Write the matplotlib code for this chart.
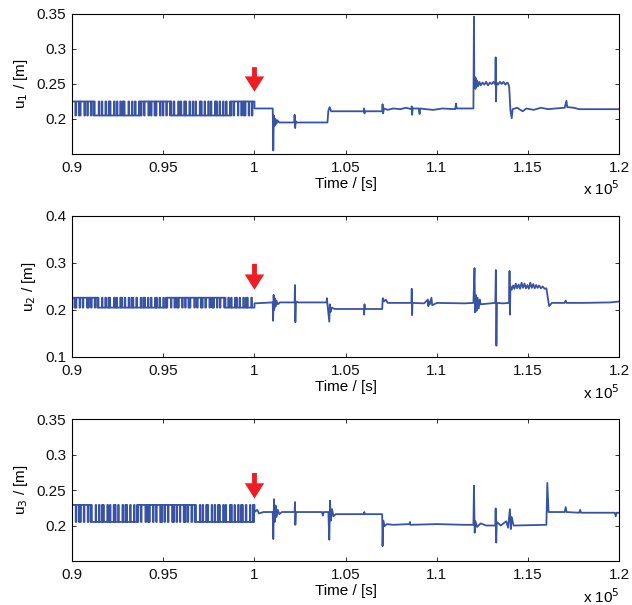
import numpy as np
import matplotlib
matplotlib.use("Agg")
import matplotlib.pyplot as plt

plt.rcParams['font.family'] = ['Liberation Sans', 'DejaVu Sans']

# time axis ticks (seconds), labels shown in units of 1e5 s
xtick_vals = [90000, 95000, 100000, 105000, 110000, 115000, 120000]
xtick_labels = ['0.9', '0.95', '1', '1.05', '1.1', '1.15', '1.2']

# --- switching phase (before the arrow): durations of alternating high/low levels [s]
u1_levels = (0.225, 0.205)
u1_dur = [180, 40, 150, 30, 40, 30, 200, 40, 120, 40, 160, 30, 110, 40, 30, 220, 40, 130, 30,
          170, 40, 140, 30, 40, 30, 190, 40, 120, 30, 150, 40, 100, 30, 40, 30, 210, 40, 160, 30,
          130, 40, 180, 30, 40, 40, 30, 140, 30, 200, 40, 110, 30, 160, 40, 40, 30, 190, 40, 120,
          30, 150, 40, 170, 30, 40, 130, 40, 210, 30, 100, 40, 160, 30, 40, 30, 180, 40, 140,
          30, 120, 40, 200, 30, 40, 40, 150, 30, 170, 40, 110, 30, 190, 40, 40, 30, 140, 40, 160,
          30, 130, 40, 180, 30, 40, 120, 40, 200, 30, 150, 40, 100, 30, 40, 30, 170, 40, 140,
          30, 160, 40, 30, 40, 190, 30, 120, 40, 150, 30, 180, 40, 110, 30, 200, 40, 130, 30, 160]

u2_levels = (0.226, 0.205)
u2_dur = [130, 40, 30, 40, 170, 30, 140, 40, 200, 30, 40, 30, 120, 40, 160, 30, 110, 40, 30,
          190, 30, 150, 40, 130, 30, 40, 30, 210, 40, 100, 30, 170, 40, 30, 40, 140, 30, 180, 40,
          120, 30, 40, 30, 160, 40, 200, 30, 110, 40, 30, 40, 150, 30, 130, 40, 190, 30, 40, 30,
          140, 40, 170, 30, 120, 40, 30, 200, 30, 160, 40, 100, 30, 40, 30, 180, 40, 130, 30,
          150, 40, 30, 40, 210, 30, 120, 40, 170, 30, 40, 30, 140, 40, 190, 30, 110, 40, 30, 40,
          160, 30, 130, 40, 200, 30, 40, 150, 40, 120, 30, 180, 40, 30, 40, 140, 30, 170, 40,
          110, 30, 40, 30, 190, 40, 150, 30, 120, 40, 160, 30, 200, 40, 130, 30, 170, 40, 140, 30]

u3_levels = (0.229, 0.205)
u3_dur = [200, 40, 140, 30, 40, 30, 160, 40, 180, 30, 120, 40, 30, 210, 30, 150, 40, 130, 30,
          40, 30, 190, 40, 110, 30, 170, 40, 30, 40, 140, 30, 200, 40, 120, 30, 40, 30, 160, 40,
          180, 30, 130, 40, 30, 150, 30, 210, 40, 100, 30, 40, 30, 170, 40, 140, 30, 190, 40,
          30, 40, 120, 30, 160, 40, 200, 30, 40, 30, 130, 40, 150, 30, 180, 40, 30, 40, 110, 30,
          170, 40, 140, 30, 40, 210, 40, 120, 30, 160, 40, 30, 40, 190, 30, 130, 40, 150, 30,
          40, 30, 180, 40, 100, 30, 200, 40, 30, 40, 140, 30, 170, 40, 120, 30, 40, 30, 160, 40,
          190, 30, 130, 40, 30, 40, 150, 30, 200, 40, 110, 30, 170, 40, 140, 30]

# --- after the arrow: piecewise signal (time [s], value [m])
u1_t = [100000, 101000, 101030, 101060, 101100, 101150, 101200, 101260, 101350,
        102180, 102200, 102230, 102260, 102300, 104000, 104050, 104120, 104200,
        106000, 106010, 106030, 106050, 107000, 107020, 107050, 107100, 107300,
        107600, 108000, 108300, 108600, 108620, 108640, 108670, 109000, 109050,
        109080, 109400, 109800, 110300, 111000, 111050, 111080, 112000, 112030,
        112050, 112080, 112110, 112140, 112170, 112200, 112260, 112330, 112400,
        112500, 112600, 112700, 112800, 112900, 113000, 113100, 113200, 113220,
        113240, 113260, 113350, 113450, 113550, 113650, 113750, 113850, 113900,
        113960, 114030, 114100, 114150, 114400, 114700, 114900, 115300, 115700,
        116100, 116500, 117000, 117100, 117140, 117500, 117800, 120000]
u1_v = [0.215, 0.215, 0.155, 0.205, 0.190, 0.200, 0.193, 0.198, 0.195,
        0.195, 0.206, 0.187, 0.197, 0.195, 0.195, 0.212, 0.217, 0.211,
        0.211, 0.215, 0.208, 0.211, 0.211, 0.221, 0.208, 0.215, 0.213,
        0.215, 0.214, 0.216, 0.214, 0.218, 0.206, 0.215, 0.215, 0.207,
        0.215, 0.214, 0.213, 0.215, 0.214, 0.222, 0.215, 0.215, 0.346,
        0.245, 0.260, 0.243, 0.258, 0.246, 0.255, 0.247, 0.253, 0.248,
        0.252, 0.249, 0.253, 0.248, 0.252, 0.250, 0.253, 0.249, 0.288,
        0.225, 0.252, 0.249, 0.253, 0.250, 0.253, 0.249, 0.252, 0.251,
        0.246, 0.212, 0.201, 0.214, 0.216, 0.211, 0.215, 0.213, 0.216,
        0.214, 0.215, 0.216, 0.226, 0.217, 0.216, 0.214, 0.214]

u2_t = [100000, 100500, 101000, 101020, 101050, 101080, 101110, 101150, 101200,
        101280, 101400, 102200, 102220, 102240, 102270, 102400, 103950, 103970,
        104000, 104100, 104130, 104170, 104230, 104400, 106000, 106010, 106030,
        106050, 107000, 107030, 107100, 107200, 107300, 108600, 108620, 108640,
        108660, 109300, 109500, 109530, 109560, 109600, 109700, 109740, 110000,
        111500, 112000, 112060, 112090, 112130, 112170, 112230, 112290, 112350,
        112400, 113200, 113230, 113260, 113290, 113600, 113960, 113980, 114000,
        114030, 114100, 114180, 114250, 114320, 114400, 114480, 114560, 114640,
        114720, 114800, 114880, 114960, 115040, 115120, 115200, 115280, 115360,
        115440, 115520, 115600, 115700, 115800, 115900, 116000, 116150, 116300,
        117000, 117060, 117100, 118000, 119500, 120000]
u2_v = [0.214, 0.215, 0.216, 0.177, 0.232, 0.200, 0.225, 0.207, 0.220,
        0.212, 0.216, 0.216, 0.253, 0.174, 0.218, 0.216, 0.216, 0.225,
        0.212, 0.175, 0.212, 0.196, 0.205, 0.202, 0.202, 0.190, 0.212,
        0.202, 0.202, 0.225, 0.218, 0.222, 0.215, 0.215, 0.245, 0.189,
        0.215, 0.214, 0.222, 0.208, 0.218, 0.212, 0.226, 0.210, 0.215,
        0.214, 0.215, 0.289, 0.195, 0.232, 0.198, 0.226, 0.203, 0.222,
        0.212, 0.215, 0.285, 0.124, 0.215, 0.214, 0.215, 0.283, 0.190,
        0.250, 0.243, 0.252, 0.245, 0.256, 0.246, 0.254, 0.245, 0.258,
        0.247, 0.256, 0.246, 0.253, 0.245, 0.258, 0.247, 0.255, 0.246,
        0.253, 0.247, 0.252, 0.246, 0.250, 0.245, 0.246, 0.208, 0.215,
        0.215, 0.220, 0.215, 0.215, 0.216, 0.218]

u3_t = [100000, 100150, 100250, 100500, 101000, 101030, 101070, 101110, 101160,
        101210, 101280, 101360, 101500, 102200, 102220, 102240, 102270, 103700,
        103750, 103800, 104050, 104100, 104140, 104190, 104250, 104330, 104450,
        106000, 106020, 106040, 107000, 107020, 107060, 107120, 107250, 107600,
        108500, 108520, 108540, 110000, 111500, 112000, 112030, 112070, 112110,
        112200, 112400, 112700, 113200, 113220, 113250, 113280, 113500, 113800,
        113900, 114000, 114050, 114100, 114200, 116000, 116050, 116120, 116500,
        117000, 117060, 117100, 117800, 117850, 117900, 119750, 119800, 119850,
        120000]
u3_v = [0.219, 0.222, 0.217, 0.219, 0.219, 0.181, 0.237, 0.205, 0.228,
        0.212, 0.222, 0.216, 0.219, 0.219, 0.233, 0.201, 0.219, 0.219,
        0.214, 0.219, 0.219, 0.180, 0.235, 0.207, 0.223, 0.213, 0.216,
        0.216, 0.219, 0.216, 0.216, 0.171, 0.207, 0.199, 0.202, 0.201,
        0.202, 0.205, 0.201, 0.202, 0.201, 0.201, 0.256, 0.190, 0.206,
        0.198, 0.203, 0.200, 0.200, 0.224, 0.176, 0.205, 0.200, 0.206,
        0.197, 0.223, 0.195, 0.212, 0.200, 0.201, 0.260, 0.219, 0.219,
        0.219, 0.226, 0.219, 0.218, 0.222, 0.218, 0.218, 0.213, 0.218,
        0.218]

# arrow (start/tip value) for each panel
arrow_from = [0.274, 0.298, 0.274]
arrow_to = [0.239, 0.243, 0.238]

ylims = [(0.15, 0.35), (0.1, 0.4), (0.15, 0.35)]
yticks = [[0.2, 0.25, 0.3, 0.35], [0.1, 0.2, 0.3, 0.4], [0.2, 0.25, 0.3, 0.35]]
ytick_labels = [['0.2', '0.25', '0.3', '0.35'], ['0.1', '0.2', '0.3', '0.4'],
                ['0.2', '0.25', '0.3', '0.35']]
ylabels = ['u$_1$ / [m]', 'u$_2$ / [m]', 'u$_3$ / [m]']

line_color = '#3953a4'
arrow_color = '#ee1c24'


def switching(dur, levels, t0=90000, t1=100000):
    edges = t0 + np.cumsum(dur)
    edges = edges[edges < t1]
    edges = np.concatenate([[t0], edges, [t1]])
    t, v = [], []
    for i in range(len(edges) - 1):
        lev = levels[i % 2]
        t += [edges[i], edges[i + 1]]
        v += [lev, lev]
    return t, v


fig = plt.figure(figsize=(6.32, 6.05), dpi=100)
positions = [[0.114, 0.7455, 0.866, 0.2314],
             [0.114, 0.410, 0.866, 0.2331],
             [0.114, 0.0727, 0.866, 0.2347]]

series = [(u1_dur, u1_levels, u1_t, u1_v),
          (u2_dur, u2_levels, u2_t, u2_v),
          (u3_dur, u3_levels, u3_t, u3_v)]

for i, (dur, levels, t_after, v_after) in enumerate(series):
    ax = fig.add_axes(positions[i])
    ts, vs = switching(dur, levels)
    t = ts + t_after
    v = vs + v_after
    ax.plot(t, v, color=line_color, linewidth=1.3)

    ax.annotate('', xy=(100000, arrow_to[i]), xytext=(100000, arrow_from[i]),
                arrowprops=dict(facecolor=arrow_color, edgecolor='none',
                                width=3.5, headwidth=14, headlength=11))

    ax.set_xlim(90000, 120000)
    ax.set_ylim(*ylims[i])
    ax.set_xticks(xtick_vals)
    ax.set_xticklabels(xtick_labels)
    ax.set_yticks(yticks[i])
    ax.set_yticklabels(ytick_labels[i])
    ax.tick_params(direction='in', length=3, width=0.6, top=True, right=True,
                   labelsize=11, colors='#111111')
    ax.tick_params(axis='x', pad=5)
    ax.tick_params(axis='y', pad=4)
    for sp in ax.spines.values():
        sp.set_linewidth(0.8)
    ax.set_xlabel('Time / [s]', fontsize=11, labelpad=1.5)
    ax.set_ylabel(ylabels[i], fontsize=11, labelpad=5)
    ax.text(1.0, -0.25, r'x 10$^5$', transform=ax.transAxes, ha='right',
            va='center', fontsize=11)

plt.savefig('out.png', dpi=100)
plt.close()
